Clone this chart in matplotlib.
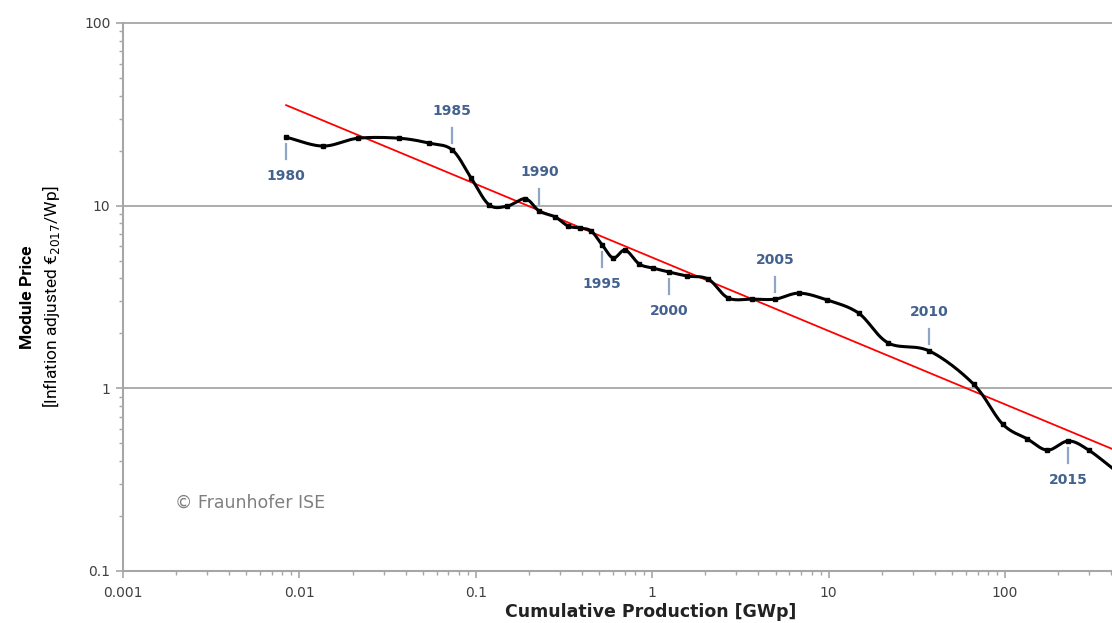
import numpy as np
import matplotlib
matplotlib.use("Agg")
import matplotlib.pyplot as plt
from matplotlib.ticker import LogLocator, NullFormatter, FixedLocator, FixedFormatter

# ---------------- data ----------------
years = list(range(1980, 2018))
cum_production = [0.00841, 0.0136, 0.0215, 0.0368, 0.0544, 0.0735, 0.094, 0.119, 0.151, 0.191,
                  0.229, 0.282, 0.334, 0.391, 0.451, 0.521, 0.602, 0.703, 0.845, 1.014,
                  1.25, 1.58, 2.08, 2.70, 3.70, 4.99, 6.83, 9.84, 14.8, 21.8,
                  37.3, 66.3, 96.8, 134, 174, 229, 298, 430]
module_price = [23.7, 21.2, 23.4, 23.4, 22.0, 20.2, 14.2, 10.1, 9.95, 10.9,
                9.34, 8.67, 7.73, 7.54, 7.26, 6.09, 5.17, 5.71, 4.79, 4.55,
                4.33, 4.12, 3.96, 3.12, 3.08, 3.08, 3.32, 3.04, 2.58, 1.77,
                1.60, 1.055, 0.638, 0.528, 0.459, 0.515, 0.459, 0.35]
fit_x = [0.00841, 407]
fit_y = [35.5, 0.465]
label_years = [1980, 1985, 1990, 1995, 2000, 2005, 2010, 2015]
label_side = [-1, 1, 1, -1, -1, 1, 1, -1]   # 1 = above, -1 = below
x_ticks = [0.001, 0.01, 0.1, 1, 10, 100]
x_ticklabels = ["0.001", "0.01", "0.1", "1", "10", "100"]
y_ticks = [0.1, 1, 10, 100]
y_ticklabels = ["0.1", "1", "10", "100"]

# ---------------- figure ----------------
fig = plt.figure(figsize=(11.12, 6.23), dpi=100)
ax = fig.add_axes([123/1112, 52/623, 1 - 123/1112 + 0.0005, (571-23)/623])
ax.set_xscale("log")
ax.set_yscale("log")
ax.set_xlim(0.001, 407)
ax.set_ylim(0.1, 100)

grey = "#a6a6a6"
for s in ["top", "right"]:
    ax.spines[s].set_visible(False)
for s in ["left", "bottom"]:
    ax.spines[s].set_color(grey)
    ax.spines[s].set_linewidth(1.5)

for gy in [1, 10, 100]:
    ax.axhline(gy, color=grey, lw=1.3, zorder=0, clip_on=False)

ax.xaxis.set_major_locator(FixedLocator(x_ticks))
ax.xaxis.set_major_formatter(FixedFormatter(x_ticklabels))
ax.yaxis.set_major_locator(FixedLocator(y_ticks))
ax.yaxis.set_major_formatter(FixedFormatter(y_ticklabels))
ax.xaxis.set_minor_locator(LogLocator(base=10, subs=np.arange(2, 10)))
ax.yaxis.set_minor_locator(LogLocator(base=10, subs=np.arange(2, 10)))
ax.xaxis.set_minor_formatter(NullFormatter())
ax.yaxis.set_minor_formatter(NullFormatter())
ax.tick_params(which="major", direction="out", length=5, width=1.2, color=grey,
               labelsize=10, labelcolor="#404040")
ax.tick_params(which="minor", direction="out", length=3, width=1.0, color=grey)
ax.tick_params(axis="x", pad=6)
ax.tick_params(axis="y", pad=4)

# ---------------- smoothed curve (Catmull-Rom in log space) ----------------
lx = np.log10(cum_production)
ly = np.log10(module_price)
P = np.column_stack([lx, ly])
Pext = np.vstack([P[0] - (P[1] - P[0]), P, P[-1] + (P[-1] - P[-2])])
curve = []
t = np.linspace(0, 1, 25)[:, None]
for i in range(1, len(Pext) - 2):
    p0, p1, p2, p3 = Pext[i-1], Pext[i], Pext[i+1], Pext[i+2]
    seg = 0.5 * ((2*p1) + (-p0 + p2)*t + (2*p0 - 5*p1 + 4*p2 - p3)*t**2 + (-p0 + 3*p1 - 3*p2 + p3)*t**3)
    curve.append(seg)
curve = np.vstack(curve)

ax.plot(fit_x, fit_y, color="#ff0000", lw=1.3, zorder=2)
ax.plot(10**curve[:, 0], 10**curve[:, 1], color="black", lw=2.2, zorder=3,
        solid_capstyle="round")
ax.plot(cum_production, module_price, ls="none", marker="s", ms=3.5, color="black", zorder=4)

# ---------------- year labels ----------------
blue = "#44628f"
W, H = fig.bbox.width, fig.bbox.height
for yr, side in zip(label_years, label_side):
    i = years.index(yr)
    x_disp, y_disp = ax.transData.transform((cum_production[i], module_price[i]))
    y0 = y_disp + side * 7
    y1 = y_disp + side * 22
    fig.add_artist(plt.Line2D([x_disp / W] * 2, [y0 / H, y1 / H],
                              transform=fig.transFigure, color="#8fa6c6", lw=1.6))
    fig.text(x_disp / W, (y_disp + side * 39) / H, str(yr),
             ha="center", va="center", fontsize=10, fontweight="bold", color=blue)

# ---------------- texts ----------------
fig.text(175/1112, 1 - 503/623, "© Fraunhofer ISE", fontsize=12.5, color="#7f7f7f",
         ha="left", va="center")
fig.text(651/1112, 1 - 612/623, "Cumulative Production [GWp]", fontsize=12.5,
         fontweight="bold", color="#222222", ha="center", va="center")
fig.text(28/1112, 1 - 297/623, "Module Price", rotation=90, fontsize=12.5,
         fontweight="bold", ha="center", va="center",
         family=["Roboto", "DejaVu Sans"])
fig.text(51/1112, 1 - 297/623, r"[Inflation adjusted €$_{2017}$/Wp]", rotation=90,
         fontsize=12.5, ha="center", va="center",
         family=["Roboto", "DejaVu Sans"])

fig.savefig("out.png", dpi=100)
